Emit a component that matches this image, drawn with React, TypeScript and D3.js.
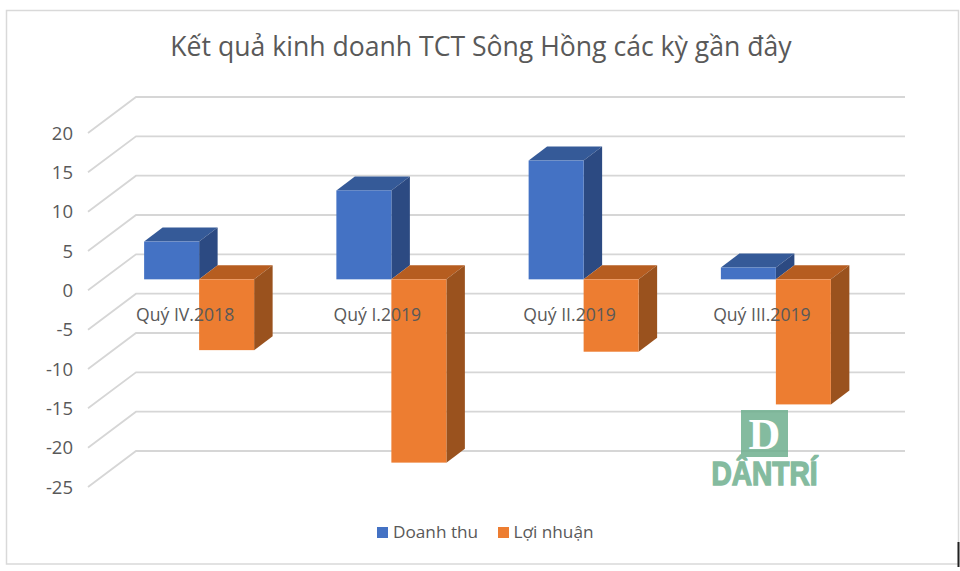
import React from "react";
import * as d3 from "d3";

const categories = ["Quý IV.2018", "Quý I.2019", "Quý II.2019", "Quý III.2019"];
const revenue = [4.8, 11.3, 15.1, 1.5];
const profit = [-9.0, -23.3, -9.2, -15.9];
const ticks = [20, 15, 10, 5, 0, -5, -10, -15, -20, -25];
const seriesNames = ["Doanh thu", "Lợi nhuận"];
const blue = { front: "#4472C4", top: "#355A98", side: "#2C4A82" };
const orange = { front: "#ED7D31", top: "#B65D20", side: "#9A521E" };
const font = "'Open Sans', 'Noto Sans', sans-serif";
const ink = "#595959";

const W = 960, H = 571;
const y = d3.scaleLinear().domain([20, -25]).range([97, 451]);
const x = d3.scaleBand<string>().domain(categories).range([103, 872]).paddingInner(0).paddingOuter(0);
const wallDx = 48, wallDy = 36;
const barOffsetY = 25;
const barW = 55, depthX = 18.5, depthY = 14;

function Bar({ x0, v, c }: { x0: number; v: number; c: typeof blue }) {
  const y0 = y(0) + barOffsetY;
  const y1 = y(v) + barOffsetY;
  const top = Math.min(y0, y1), bottom = Math.max(y0, y1);
  const x1 = x0 + barW;
  const poly = (p: number[][]) => p.map((q) => q.join(",")).join(" ");
  return (
    <g>
      <polygon fill={c.top} points={poly([[x0, top], [x0 + depthX, top - depthY], [x1 + depthX, top - depthY], [x1, top]])} />
      <polygon fill={c.side} points={poly([[x1, top], [x1 + depthX, top - depthY], [x1 + depthX, bottom - depthY], [x1, bottom]])} />
      <rect x={x0} y={top} width={barW} height={bottom - top} fill={c.front} />
    </g>
  );
}

export default function App() {
  return (
    <svg width={W} height={H} viewBox={`0 0 ${W} ${H}`} style={{ position: "absolute", left: 0, top: 0, background: "#fff" }}>
      <rect x={6.5} y={10.5} width={952} height={553.5} fill="#fff" stroke="#d9d9d9" strokeWidth={1.5} />
      <rect x={957.5} y={542} width={2} height={25} fill="#222" />
      <text x={481} y={55.5} textAnchor="middle" fontFamily={font} fontSize={26.6} fill={ink}>
        Kết quả kinh doanh TCT Sông Hồng các kỳ gần đây
      </text>
      {ticks.map((t) => (
        <g key={t}>
          <polyline
            fill="none"
            stroke="#d6d6d6"
            strokeWidth={1.8}
            points={`${136 - wallDx},${y(t) + wallDy} 136,${y(t)} 905,${y(t)}`}
          />
          <text x={73} y={y(t) + wallDy + 6.5} textAnchor="end" fontFamily={font} fontSize={18.5} fill={ink}>
            {t}
          </text>
        </g>
      ))}
      {categories.map((c, i) => {
        const cx = x(c)! + x.bandwidth() / 2;
        return (
          <g key={c}>
            <Bar x0={cx - barW} v={revenue[i]} c={blue} />
            <Bar x0={cx} v={profit[i]} c={orange} />
          </g>
        );
      })}
      {categories.map((c) => (
        <text key={c} x={x(c)! + x.bandwidth() / 2 - 14} y={321} textAnchor="middle" fontFamily={font} fontSize={17.6} fill={ink}>
          {c}
        </text>
      ))}
      <g opacity={0.85}>
        <rect x={741} y={410} width={47} height={47} fill="#6FB08F" />
        <text x={764.5} y={449} textAnchor="middle" fontFamily="'Liberation Serif', serif" fontWeight={700} fontSize={44} fill="#fff">
          D
        </text>
        <text x={764.5} y={485} textAnchor="middle" fontFamily="'Liberation Sans', sans-serif" fontWeight={700} fontSize={33} fill="#6FB08F" textLength={106} lengthAdjust="spacingAndGlyphs" stroke="#6FB08F" strokeWidth={1.4}>
          DÂNTRÍ
        </text>
      </g>
      <rect x={377} y={527} width={11} height={11} fill={blue.front} />
      <text x={393} y={538} fontFamily={font} fontSize={17.2} fill={ink}>{seriesNames[0]}</text>
      <rect x={498} y={527} width={11} height={11} fill={orange.front} />
      <text x={513.5} y={538} fontFamily={font} fontSize={17.2} fill={ink}>{seriesNames[1]}</text>
    </svg>
  );
}
